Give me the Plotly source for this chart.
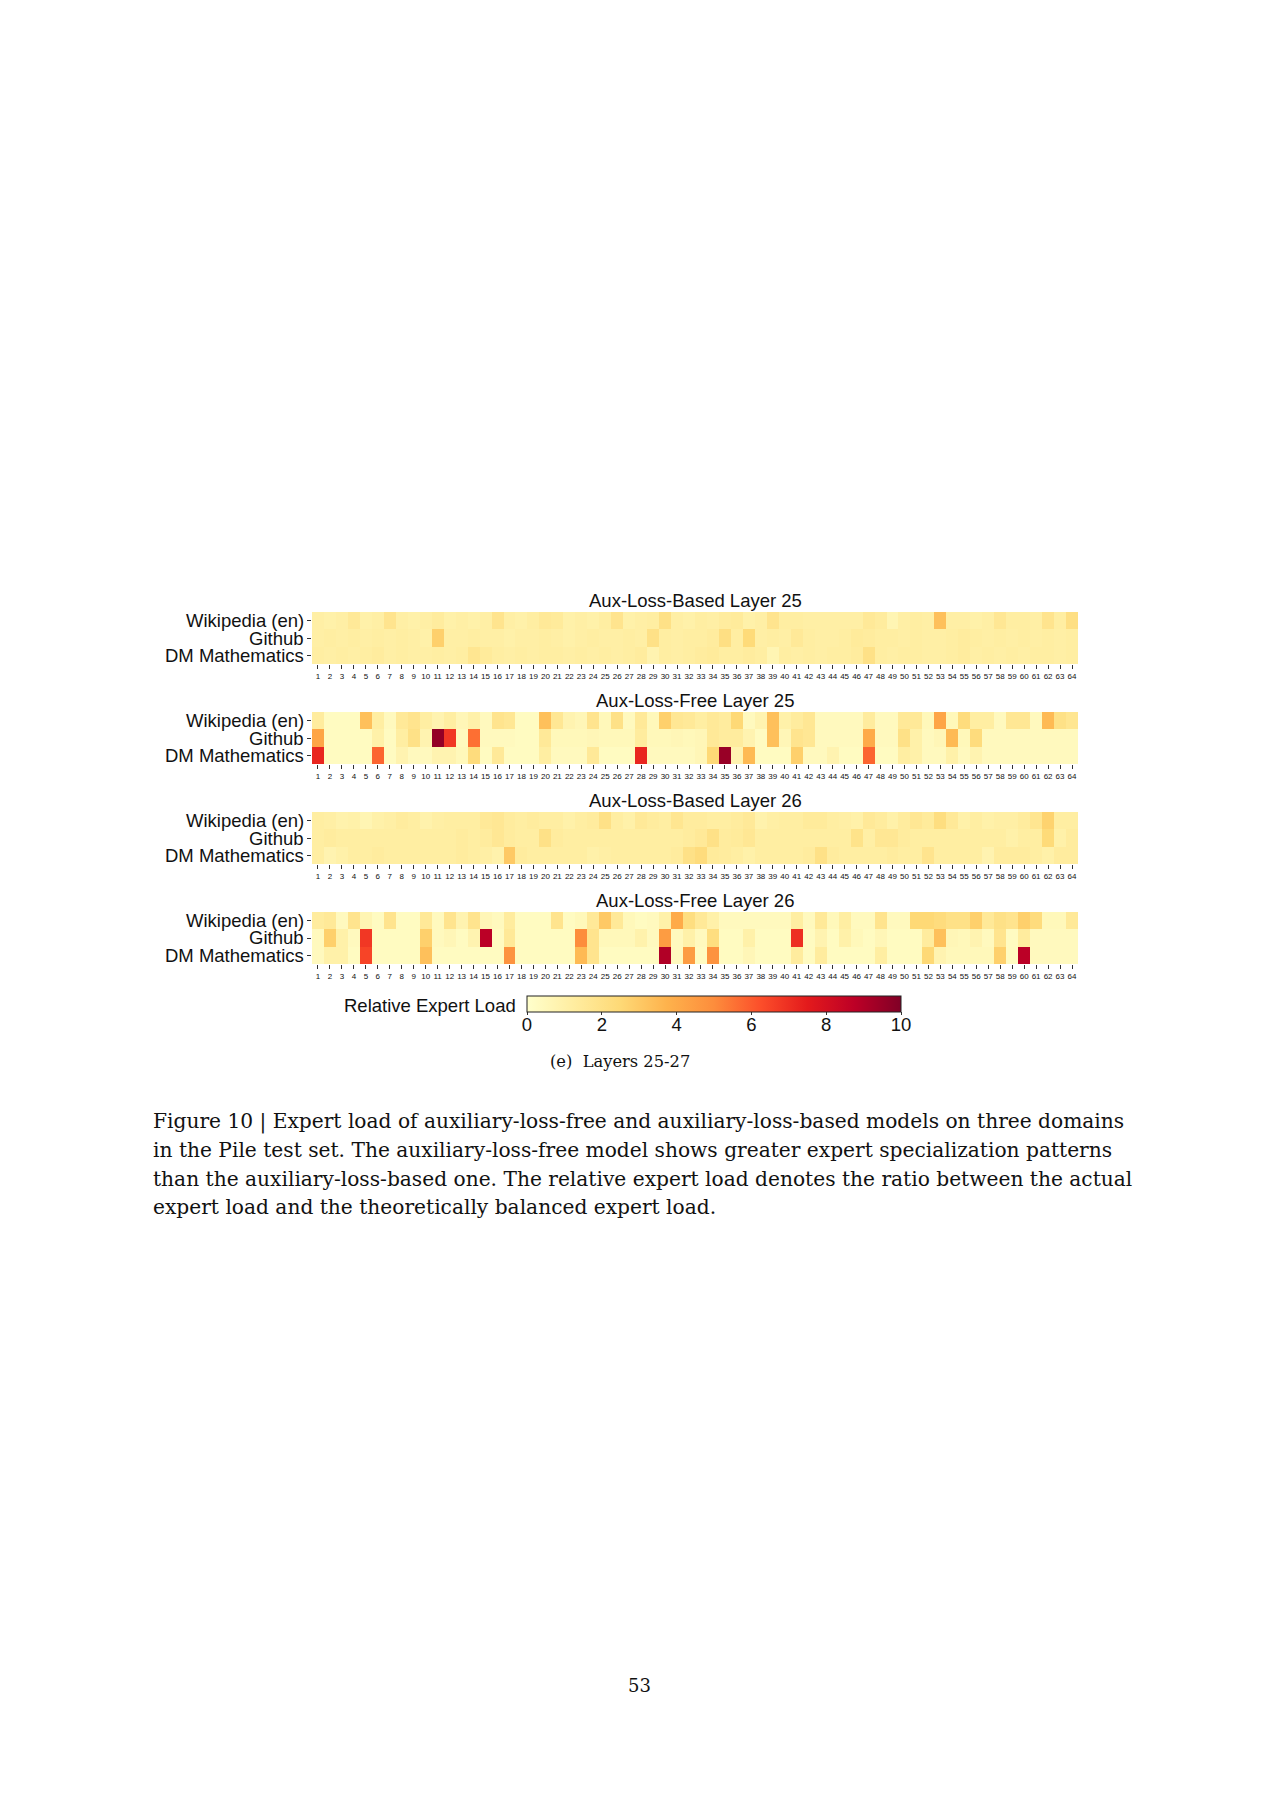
import plotly.graph_objects as go

experts = list(range(1, 65))
expert_labels = [str(e) for e in experts]
domains = ["Wikipedia (en)", "Github", "DM Mathematics"]
panel_titles = ["Aux-Loss-Based Layer 25", "Aux-Loss-Free Layer 25",
                "Aux-Loss-Based Layer 26", "Aux-Loss-Free Layer 26"]
cbar_ticks = [0, 2, 4, 6, 8, 10]

based25_wiki = [1.1, 1.0, 1.1, 1.5, 1.0, 1.1, 1.8, 1.1, 1.0, 1.1, 1.3, 1.0, 1.1, 1.0, 1.1, 1.8,
                1.1, 1.0, 1.2, 1.5, 1.4, 1.0, 1.1, 1.0, 1.2, 1.8, 1.0, 1.1, 1.2, 2.0, 1.1, 1.0,
                1.2, 1.1, 1.3, 1.4, 1.0, 1.1, 1.8, 1.2, 1.2, 1.1, 1.1, 1.1, 1.1, 1.1, 1.5, 1.3,
                0.7, 1.1, 1.2, 1.1, 3.3, 1.1, 1.1, 1.0, 1.1, 1.6, 1.2, 1.2, 1.1, 1.8, 1.2, 2.1]
based25_github = [1.1, 1.2, 1.1, 1.2, 1.1, 1.2, 1.1, 1.2, 1.1, 1.0, 2.8, 1.1, 1.1, 1.2, 1.1, 1.1,
                  1.0, 1.1, 1.1, 1.2, 1.1, 1.0, 1.1, 1.2, 1.1, 1.1, 1.2, 1.1, 2.0, 1.2, 1.1, 1.2,
                  1.2, 1.3, 2.1, 1.2, 2.4, 1.1, 1.2, 1.1, 1.5, 1.2, 1.1, 1.1, 1.2, 1.4, 1.3, 1.2,
                  1.2, 1.1, 1.2, 1.1, 1.1, 1.2, 1.3, 1.2, 1.1, 1.2, 1.1, 1.2, 1.1, 1.2, 1.1, 1.2]
based25_math = [1.2, 1.1, 1.2, 1.1, 1.2, 1.3, 1.1, 1.2, 1.1, 1.1, 1.2, 1.1, 1.2, 1.7, 1.4, 1.2,
                1.1, 1.2, 1.1, 1.2, 1.2, 1.1, 1.2, 1.1, 1.2, 1.1, 1.2, 1.3, 0.8, 1.2, 1.1, 1.2,
                1.3, 1.4, 1.2, 1.2, 1.3, 1.2, 0.7, 1.2, 1.1, 1.2, 1.1, 1.2, 1.2, 1.3, 2.0, 1.2,
                1.1, 1.2, 1.2, 1.1, 1.1, 1.2, 1.3, 1.1, 1.2, 1.1, 1.2, 1.1, 1.2, 1.2, 1.1, 1.2]

free25_wiki = [1.3, 0.3, 0.3, 0.3, 3.3, 1.2, 0.4, 1.5, 1.8, 1.2, 0.8, 1.2, 0.6, 1.0, 0.4, 1.8,
               1.6, 0.3, 0.3, 3.3, 1.6, 0.8, 0.6, 1.8, 0.5, 2.0, 0.4, 1.5, 0.5, 2.8, 1.6, 1.5,
               1.2, 1.5, 1.3, 2.5, 0.4, 0.8, 3.3, 1.0, 1.3, 1.6, 0.4, 0.4, 0.4, 0.4, 1.3, 0.4,
               0.4, 1.5, 1.5, 0.5, 4.2, 0.5, 2.3, 1.2, 1.2, 0.4, 1.6, 1.6, 0.4, 3.5, 2.0, 1.7]
free25_github = [4.2, 0.3, 0.3, 0.3, 0.3, 1.0, 0.3, 1.2, 2.0, 0.8, 9.6, 6.8, 0.4, 5.6, 0.4, 0.4,
                 0.4, 0.3, 0.3, 1.5, 0.5, 0.5, 0.5, 0.6, 0.5, 0.5, 0.5, 1.3, 0.5, 0.5, 0.6, 0.5,
                 0.6, 1.5, 1.3, 1.3, 0.8, 0.3, 3.3, 0.6, 1.8, 1.6, 0.4, 0.4, 0.4, 0.4, 4.0, 0.4,
                 0.4, 2.0, 1.0, 0.4, 0.6, 3.5, 0.5, 2.3, 0.4, 0.4, 0.4, 0.4, 0.4, 0.4, 0.4, 0.4]
free25_math = [7.2, 0.3, 0.3, 0.3, 0.3, 5.8, 0.3, 0.8, 0.4, 0.4, 0.8, 0.8, 0.5, 2.3, 0.3, 1.5,
               0.3, 0.3, 0.3, 1.2, 0.4, 0.4, 0.4, 1.5, 0.3, 0.3, 0.3, 7.2, 0.4, 0.4, 0.4, 0.4,
               0.6, 2.5, 9.5, 0.8, 3.5, 0.3, 0.3, 0.3, 2.8, 0.4, 0.4, 0.8, 0.3, 0.3, 5.8, 0.3,
               0.3, 1.2, 1.0, 0.4, 0.4, 1.0, 0.4, 0.8, 0.4, 0.4, 0.4, 0.4, 0.4, 0.4, 0.4, 0.4]

based26_wiki = [1.2, 1.1, 0.9, 1.0, 0.7, 1.0, 1.1, 1.3, 1.2, 0.9, 1.1, 1.2, 1.2, 1.2, 1.5, 1.6,
                1.3, 1.2, 1.3, 1.2, 1.2, 1.0, 1.2, 1.3, 2.0, 1.2, 1.0, 1.5, 1.3, 1.2, 1.7, 1.3,
                1.3, 1.2, 1.2, 1.3, 1.5, 0.9, 1.1, 1.2, 1.2, 1.4, 1.4, 1.2, 1.1, 1.0, 1.5, 1.3,
                1.0, 1.3, 1.6, 1.4, 2.2, 1.5, 1.0, 1.2, 1.0, 1.1, 1.1, 1.3, 1.7, 2.7, 1.2, 1.2]
based26_github = [1.2, 1.3, 1.2, 1.2, 1.2, 1.2, 1.2, 1.2, 1.2, 1.2, 1.2, 1.2, 1.3, 1.2, 1.3, 1.6,
                  1.3, 1.2, 1.2, 2.0, 1.3, 1.2, 1.2, 1.2, 1.2, 1.2, 1.2, 1.2, 1.2, 1.2, 1.2, 1.3,
                  1.5, 2.0, 1.3, 1.4, 1.6, 1.2, 1.2, 1.2, 1.2, 1.2, 1.2, 1.2, 1.2, 1.9, 1.1, 1.6,
                  1.6, 1.3, 1.2, 1.2, 1.2, 1.2, 1.2, 1.2, 1.2, 1.2, 1.0, 1.2, 1.2, 2.4, 1.0, 1.3]
based26_math = [1.2, 0.8, 1.0, 1.2, 1.2, 1.3, 1.2, 1.2, 1.2, 1.2, 1.2, 1.2, 1.3, 1.2, 1.1, 0.9,
                3.0, 1.3, 1.2, 1.2, 1.2, 1.2, 1.2, 1.0, 1.1, 1.2, 1.2, 1.2, 1.2, 1.2, 1.3, 2.0,
                2.3, 1.4, 1.3, 1.2, 1.0, 1.2, 1.2, 1.2, 1.2, 1.3, 2.0, 1.3, 1.2, 1.2, 1.2, 1.2,
                1.3, 1.2, 1.2, 1.8, 1.2, 1.2, 1.2, 1.2, 0.8, 1.3, 1.3, 1.3, 1.2, 1.0, 1.3, 1.3]

free26_wiki = [1.3, 1.5, 0.4, 1.8, 0.7, 0.3, 1.8, 0.3, 0.3, 1.5, 0.4, 1.8, 0.8, 1.8, 0.6, 0.4,
               1.3, 0.3, 0.3, 0.3, 1.8, 0.3, 0.5, 1.5, 3.0, 1.5, 0.5, 0.3, 0.4, 1.0, 4.0, 2.2,
               1.5, 1.0, 0.4, 0.4, 0.4, 0.4, 0.4, 0.4, 1.2, 0.4, 1.5, 0.5, 1.2, 0.4, 0.4, 1.8,
               0.4, 0.4, 2.5, 2.5, 2.3, 2.0, 2.0, 2.8, 1.5, 2.0, 1.8, 2.8, 2.3, 0.5, 0.5, 1.5]
free26_github = [0.4, 2.8, 1.0, 0.4, 6.8, 0.3, 0.3, 0.3, 0.3, 2.8, 0.4, 0.6, 0.3, 0.8, 8.8, 0.3,
                 1.5, 0.3, 0.3, 0.3, 0.3, 0.3, 5.0, 1.8, 0.5, 0.5, 0.5, 0.9, 0.4, 4.5, 0.4, 1.0,
                 0.4, 2.2, 0.3, 0.3, 1.0, 0.3, 0.3, 0.3, 7.0, 0.3, 0.8, 0.3, 1.0, 0.5, 0.3, 0.6,
                 0.3, 0.3, 0.3, 1.3, 3.3, 0.6, 0.5, 0.8, 0.4, 1.8, 0.3, 1.3, 0.4, 0.4, 0.4, 0.4]
free26_math = [0.4, 1.0, 1.0, 0.3, 6.5, 0.3, 0.3, 0.3, 0.3, 3.3, 0.3, 0.3, 0.3, 0.3, 0.3, 0.3,
               4.8, 0.3, 0.3, 0.3, 0.3, 0.3, 3.5, 1.8, 0.3, 0.3, 0.3, 0.3, 0.3, 9.0, 0.4, 4.5,
               0.3, 4.8, 0.3, 0.3, 0.6, 0.3, 0.3, 0.3, 1.3, 0.3, 1.3, 0.3, 0.3, 0.3, 0.3, 1.2,
               0.3, 0.3, 0.3, 2.5, 0.8, 0.5, 0.5, 0.5, 0.5, 2.8, 0.3, 8.8, 0.4, 0.4, 0.4, 0.4]

panels = [
    [based25_wiki, based25_github, based25_math],
    [free25_wiki, free25_github, free25_math],
    [based26_wiki, based26_github, based26_math],
    [free26_wiki, free26_github, free26_math],
]

# ---- layout geometry (pixels on a 1280 x 1809 page) ----
W, H = 1280, 1809
OFF = 8  # default body margin of the html page
SANS = "Liberation Sans, Arial, sans-serif"
SERIF = "DejaVu Serif, serif"

def px_x(x):
    return (x - OFF) / W

def px_y(y):
    return 1 - (y - OFF) / H

hm_left, hm_right = 312, 1078
panel_tops = [612, 712, 812, 912]
hm_height = 52
title_offset = 12
FS = 18.5

ylorrd = ["#ffffcc", "#ffeda0", "#fed976", "#feb24c", "#fd8d3c",
          "#fc4e2a", "#e31a1c", "#bd0026", "#800026"]
colorscale = [[i / (len(ylorrd) - 1), c] for i, c in enumerate(ylorrd)]

fig = go.Figure()
annotations = []
layout_axes = {}
for i, (rows, title) in enumerate(zip(panels, panel_titles)):
    n = "" if i == 0 else str(i + 1)
    fig.add_trace(go.Heatmap(
        x=experts, y=domains, z=rows, coloraxis="coloraxis",
        xaxis="x" + n, yaxis="y" + n,
    ))
    top = panel_tops[i]
    layout_axes["xaxis" + n] = dict(
        domain=[px_x(hm_left), px_x(hm_right)], anchor="y" + n,
        tickmode="array", tickvals=experts, ticktext=expert_labels,
        tickangle=0, tickfont=dict(family=SANS, size=8, color="#111"),
        ticks="outside", ticklen=4, tickwidth=1, tickcolor="#333",
        showgrid=False, zeroline=False, showline=False, automargin=False,
        range=[0.5, 64.5], fixedrange=True,
    )
    layout_axes["yaxis" + n] = dict(
        domain=[px_y(top + hm_height), px_y(top)], anchor="x" + n,
        type="category", categoryorder="array", categoryarray=domains,
        range=[2.5, -0.5], autorange=False, showticklabels=False,
        ticks="outside", ticklen=4, tickwidth=1, tickcolor="#333", automargin=False,
        showgrid=False, zeroline=False, showline=False, fixedrange=True,
    )
    for d in domains:
        annotations.append(dict(
            text=d, x=px_x(hm_left - 6), y=d, xref="paper", yref="y" + n,
            showarrow=False, xanchor="right", yanchor="middle",
            font=dict(family=SANS, size=FS, color="#111"),
        ))
    annotations.append(dict(
        text=title, x=px_x((hm_left + hm_right) / 2), y=px_y(top - title_offset),
        xref="paper", yref="paper", showarrow=False, xanchor="center", yanchor="middle",
        font=dict(family=SANS, size=FS, color="#111"),
    ))

# colorbar, plus an empty subplot whose x axis carries the colorbar tick labels
cb_left, cb_right, cb_top, cb_bottom = 527, 901, 996, 1012
fig.add_trace(go.Scatter(x=[], y=[], xaxis="x5", yaxis="y5",
                         hoverinfo="skip", showlegend=False))
layout_axes["xaxis5"] = dict(
    domain=[px_x(cb_left), px_x(cb_right)], anchor="y5", range=[0, 10],
    tickmode="array", tickvals=cbar_ticks, ticks="", tickangle=0,
    tickfont=dict(family=SANS, size=FS, color="#111"), automargin=False,
    showgrid=False, zeroline=False, showline=False, fixedrange=True,
)
layout_axes["yaxis5"] = dict(
    domain=[px_y(cb_bottom - 1), px_y(cb_top)], anchor="x5", range=[0, 1],
    showticklabels=False, ticks="", showgrid=False, zeroline=False,
    showline=False, fixedrange=True, automargin=False,
)
annotations.append(dict(
    text="Relative Expert Load", x=px_x(cb_left - 9), y=px_y(cb_top + 9),
    xref="paper", yref="paper", showarrow=False, xanchor="right", yanchor="middle",
    font=dict(family=SANS, size=FS, color="#111"),
))
annotations.append(dict(
    text="(e)&nbsp; Layers 25-27", x=px_x(620), y=px_y(1061),
    xref="paper", yref="paper", showarrow=False, xanchor="center", yanchor="middle",
    font=dict(family=SERIF, size=16.3, color="#111"),
))
body_lines = [
    "Figure 10 | Expert load of auxiliary-loss-free and auxiliary-loss-based models on three domains",
    "in the Pile test set. The auxiliary-loss-free model shows greater expert specialization patterns",
    "than the auxiliary-loss-based one. The relative expert load denotes the ratio between the actual",
    "expert load and the theoretically balanced expert load.",
]
for k, line in enumerate(body_lines):
    annotations.append(dict(
        text=line, x=px_x(151), y=px_y(1121 + 28.8 * k),
        xref="paper", yref="paper", showarrow=False, xanchor="left", yanchor="middle",
        font=dict(family=SERIF, size=20.2, color="#111"),
    ))
annotations.append(dict(
    text="53", x=px_x(639), y=px_y(1685),
    xref="paper", yref="paper", showarrow=False, xanchor="center", yanchor="middle",
    font=dict(family=SERIF, size=18, color="#111"),
))

fig.update_layout(
    width=W, height=H, margin=dict(l=0, r=0, t=0, b=0, autoexpand=False),
    paper_bgcolor="white", plot_bgcolor="rgba(0,0,0,0)", showlegend=False,
    coloraxis=dict(
        colorscale=colorscale, cmin=0, cmax=10,
        colorbar=dict(
            orientation="h", x=px_x((cb_left + cb_right) / 2), xanchor="center",
            y=px_y(cb_top), yanchor="top", len=(cb_right - cb_left) / W, lenmode="fraction",
            thickness=cb_bottom - cb_top, thicknessmode="pixels",
            outlinewidth=1, outlinecolor="#222",
            tickmode="array", tickvals=cbar_ticks, ticks="outside", ticklen=3,
            tickcolor="#333", showticklabels=False,
            xpad=0, ypad=0,
        ),
    ),
    annotations=annotations,
    **layout_axes,
)

fig.write_html("out.html")
